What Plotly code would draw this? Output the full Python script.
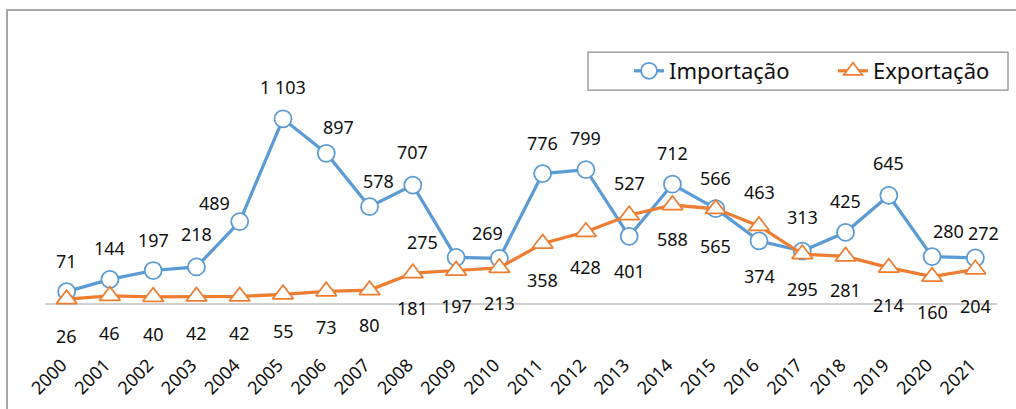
import plotly.graph_objects as go

years = [str(y) for y in range(2000, 2022)]
importacao = [71, 144, 197, 218, 489, 1103, 897, 578, 707, 275, 269,
              776, 799, 401, 712, 566, 374, 313, 425, 645, 280, 272]
exportacao = [26, 46, 40, 42, 42, 55, 73, 80, 181, 197, 213,
              358, 428, 527, 588, 565, 463, 295, 281, 214, 160, 204]

# label offsets in screen pixels (dx right, dy down)
imp_dx = [0, 0, 0, 0, -25, 0, 12, 9, 0, -34, -12, 0, 0, 0, 0, 0, 0, 0, 0, 0, 16, 8]
imp_dy = [-31, -31, -31, -33, -19, -32, -26, -26, -33, -15, -25, -31, -32, 35,
          -31, -31, 35, -34, -31, -32, -26, -25]
exp_dx = [0] * 22
exp_dy = [37, 37, 37, 37, 37, 37, 36, 35, 35, 35, 35, 36, 35, -32,
          34, 37, -34, 35, 34, 37, 35, 37]

BLUE = "#5B9BD5"
ORANGE = "#ED7D31"
FONT = "Noto Sans"

fig = go.Figure()
fig.add_trace(go.Scatter(
    x=years, y=importacao, name="Importação", mode="lines+markers",
    line=dict(color=BLUE, width=3.25),
    marker=dict(symbol="circle", size=17, color="white",
                line=dict(color=BLUE, width=1.75)),
))
fig.add_trace(go.Scatter(
    x=years, y=exportacao, name="Exportação", mode="lines+markers",
    line=dict(color=ORANGE, width=3.25),
    marker=dict(symbol="triangle-up", size=18, color="white",
                line=dict(color=ORANGE, width=1.75)),
))

def fmt(v):
    return f"{v:,}".replace(",", " ")

annotations = []
for i, yr in enumerate(years):
    annotations.append(dict(x=i, y=importacao[i], text=fmt(importacao[i]),
                            showarrow=False, xshift=imp_dx[i], yshift=-imp_dy[i],
                            font=dict(family=FONT, size=18, color="#111111")))
    annotations.append(dict(x=i, y=exportacao[i], text=fmt(exportacao[i]),
                            showarrow=False, xshift=exp_dx[i], yshift=-exp_dy[i],
                            font=dict(family=FONT, size=18, color="#111111")))

L, R, T, B = 45, 19, 70, 59
W, H = 1016, 409
pw = W - L - R
ph = H - T - B
zero_px = 303.5
scale = 0.1675
ymax = (zero_px - T) / scale
ymin = -((H - B) - zero_px) / scale

def px_x(x):
    return (x - L) / pw

def px_y(y):
    return ((H - B) - y) / ph

fig.update_layout(
    width=W, height=H,
    margin=dict(l=L, r=R, t=T, b=B, autoexpand=False),
    paper_bgcolor="white", plot_bgcolor="white",
    font=dict(family=FONT, size=18, color="#111111"),
    showlegend=True,
    legend=dict(orientation="h", x=px_x(629), xanchor="left",
                y=px_y(50), yanchor="top", entrywidth=159,
                borderwidth=0, bgcolor="rgba(0,0,0,0)",
                font=dict(family=FONT, size=22, color="#111111")),
    annotations=annotations,
    xaxis=dict(type="category", range=[-0.5, 21.5], showgrid=False,
               showline=False, ticks="", tickangle=-45, automargin=False,
               ticklabelshift=-5,
               tickfont=dict(family=FONT, size=18, color="#111111")),
    yaxis=dict(range=[ymin, ymax], showgrid=False, showticklabels=False,
               zeroline=True, zerolinecolor="#d0d0d0", zerolinewidth=1.5,
               showline=False, ticks="", automargin=False),
    shapes=[
        dict(type="rect", xref="paper", yref="paper",
             x0=px_x(7), x1=px_x(1030), y0=px_y(430), y1=px_y(10),
             line=dict(color="#8c8c8c", width=1.5), fillcolor="rgba(0,0,0,0)",
             layer="below"),
        dict(type="rect", xref="paper", yref="paper",
             x0=px_x(588), x1=px_x(1008), y0=px_y(90), y1=px_y(52),
             line=dict(color="#8c8c8c", width=1.25), fillcolor="white",
             layer="below"),
    ],
)

fig.write_html("out.html", config={"displayModeBar": False},
               post_script="document.body.style.margin='0';")
